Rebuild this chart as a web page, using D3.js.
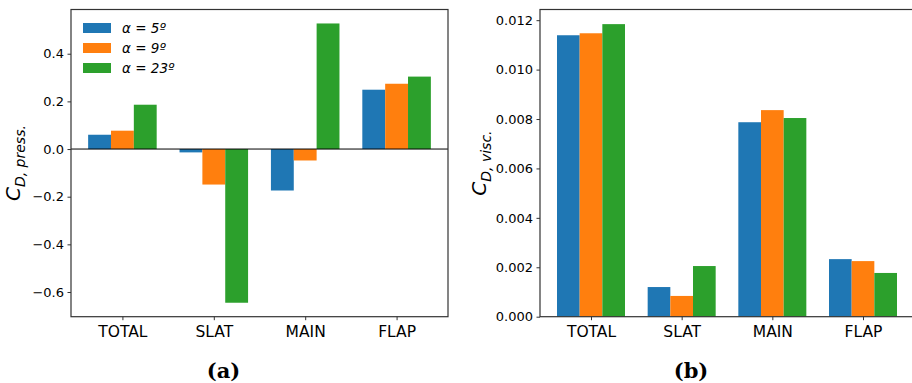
<!DOCTYPE html>
<meta charset="utf-8">
<style>
body { margin: 0; background: #fff; font-family: "DejaVu Sans", sans-serif; }
text { font-family: "DejaVu Sans", sans-serif; }
.axis path, .axis line { stroke: #333; stroke-width: 1; fill: none; }
.axis text { fill: #000; font-family: "DejaVu Sans", sans-serif; }
</style>
<body>
<script src="https://d3js.org/d3.v7.min.js"></script>
<script>
// categories and series
var parts = ["TOTAL", "SLAT", "MAIN", "FLAP"];
var angles = ["5", "9", "23"];
var colors = ["#1f77b4", "#ff7f0e", "#2ca02c"];

// pressure drag, one array per angle
var press5  = [0.060, -0.014, -0.174, 0.249];
var press9  = [0.077, -0.149, -0.048, 0.274];
var press23 = [0.186, -0.645, 0.527, 0.304];

// viscous drag
var visc5  = [0.01139, 0.00120, 0.00787, 0.00233];
var visc9  = [0.01147, 0.00084, 0.00836, 0.00225];
var visc23 = [0.01184, 0.00205, 0.00804, 0.00177];

var pressTicks = [-0.6, -0.4, -0.2, 0.0, 0.2, 0.4];
var viscTicks = [0, 0.002, 0.004, 0.006, 0.008, 0.010, 0.012];

var W = 912, H = 383;
var svg = d3.select("body").append("svg")
    .attr("width", W).attr("height", H);

// draws one panel
function panel(opt) {
    var series = opt.series;
    var all = d3.merge(series);
    var lo = Math.min(0, d3.min(all)), hi = d3.max(all);
    var r = hi - lo;
    var dom = [lo < 0 ? lo - 0.05 * r : 0, hi + 0.05 * r];

    // matplotlib-style x: bars from -0.375..3.375 plus 5% margin
    var x = d3.scaleLinear().domain([-0.5625, 3.5625]).range([opt.x0, opt.x1]);
    var y = d3.scaleLinear().domain(dom).range([opt.y1, opt.y0]);
    var bw = 0.25;

    var g = svg.append("g");

    series.forEach(function(vals, k) {
        g.selectAll(null).data(vals).enter().append("rect")
            .attr("x", function(d, i) { return x(i + (k - 1) * bw - bw / 2); })
            .attr("width", function(d, i) { return x(i + bw / 2) - x(i - bw / 2); })
            .attr("y", function(d) { return y(Math.max(0, d)); })
            .attr("height", function(d) { return Math.abs(y(d) - y(0)); })
            .attr("fill", colors[k]);
    });

    if (opt.zeroLine) {
        g.append("line")
            .attr("x1", opt.x0).attr("x2", opt.x1)
            .attr("y1", y(0)).attr("y2", y(0))
            .attr("stroke", "#000").attr("stroke-width", 1);
    }

    // spines
    g.append("rect")
        .attr("x", opt.x0).attr("y", opt.y0)
        .attr("width", opt.x1 - opt.x0).attr("height", opt.y1 - opt.y0)
        .attr("fill", "none").attr("stroke", "#333").attr("stroke-width", 1.2);

    // axes
    var xAxis = d3.axisBottom(x).tickValues([0, 1, 2, 3])
        .tickFormat(function(d) { return parts[d]; })
        .tickSize(3.5).tickPadding(3.5);
    g.append("g").attr("class", "axis")
        .attr("transform", "translate(0," + opt.y1 + ")")
        .attr("font-family", null)
        .call(xAxis)
        .call(function(s) { s.select(".domain").remove(); })
        .selectAll("text").style("font-size", "15.5px").attr("dy", "0.85em");

    var yAxis = d3.axisLeft(y).tickValues(opt.ticks)
        .tickFormat(opt.fmt).tickSize(3.5).tickPadding(3.5);
    g.append("g").attr("class", "axis")
        .attr("transform", "translate(" + opt.x0 + ",0)")
        .call(yAxis)
        .call(function(s) { s.select(".domain").remove(); })
        .selectAll("text").style("font-size", "13px");

    // y label, mathtext-like
    var cy = (opt.y0 + opt.y1) / 2;
    var lab = g.append("text")
        .attr("transform", "translate(" + opt.labelX + "," + cy + ") rotate(-90)")
        .attr("text-anchor", "middle")
        .style("font-style", "italic")
        .style("font-size", "20px");
    lab.append("tspan").text("C");
    lab.append("tspan").attr("dy", 4.5).style("font-size", "14px").text(opt.sub);

    // caption
    svg.append("text")
        .attr("x", (opt.x0 + opt.x1) / 2 - 36).attr("y", 378)
        .attr("text-anchor", "middle")
        .style("font-family", "'DejaVu Serif', serif")
        .style("font-weight", "bold")
        .style("font-size", "21px")
        .text(opt.caption);

    return g;
}

var left = panel({
    series: [press5, press9, press23],
    x0: 71, x1: 448, y0: 9.5, y1: 316.7,
    ticks: pressTicks,
    fmt: function(d) { return d3.format(".1f")(d).replace("-", "\u2212"); },
    zeroLine: true,
    labelX: 20,
    sub: "D, press.",
    caption: "(a)"
});

panel({
    series: [visc5, visc9, visc23],
    x0: 540, x1: 914, y0: 9.5, y1: 316.7,
    ticks: viscTicks,
    fmt: d3.format(".3f"),
    zeroLine: false,
    labelX: 486,
    sub: "D, visc.",
    caption: "(b)"
});

// legend
var leg = svg.append("g").attr("transform", "translate(83,23)");
angles.forEach(function(a, k) {
    var row = leg.append("g").attr("transform", "translate(0," + k * 20 + ")");
    row.append("rect").attr("width", 28).attr("height", 10).attr("fill", colors[k]);
    var t = row.append("text").attr("x", 39).attr("y", 10)
        .style("font-size", "13.5px");
    t.append("tspan").style("font-style", "italic").text("\u03b1");
    t.append("tspan").text(" = ");
    t.append("tspan").style("font-style", "italic").text(a + "\u00ba");
});
</script>
</body>
